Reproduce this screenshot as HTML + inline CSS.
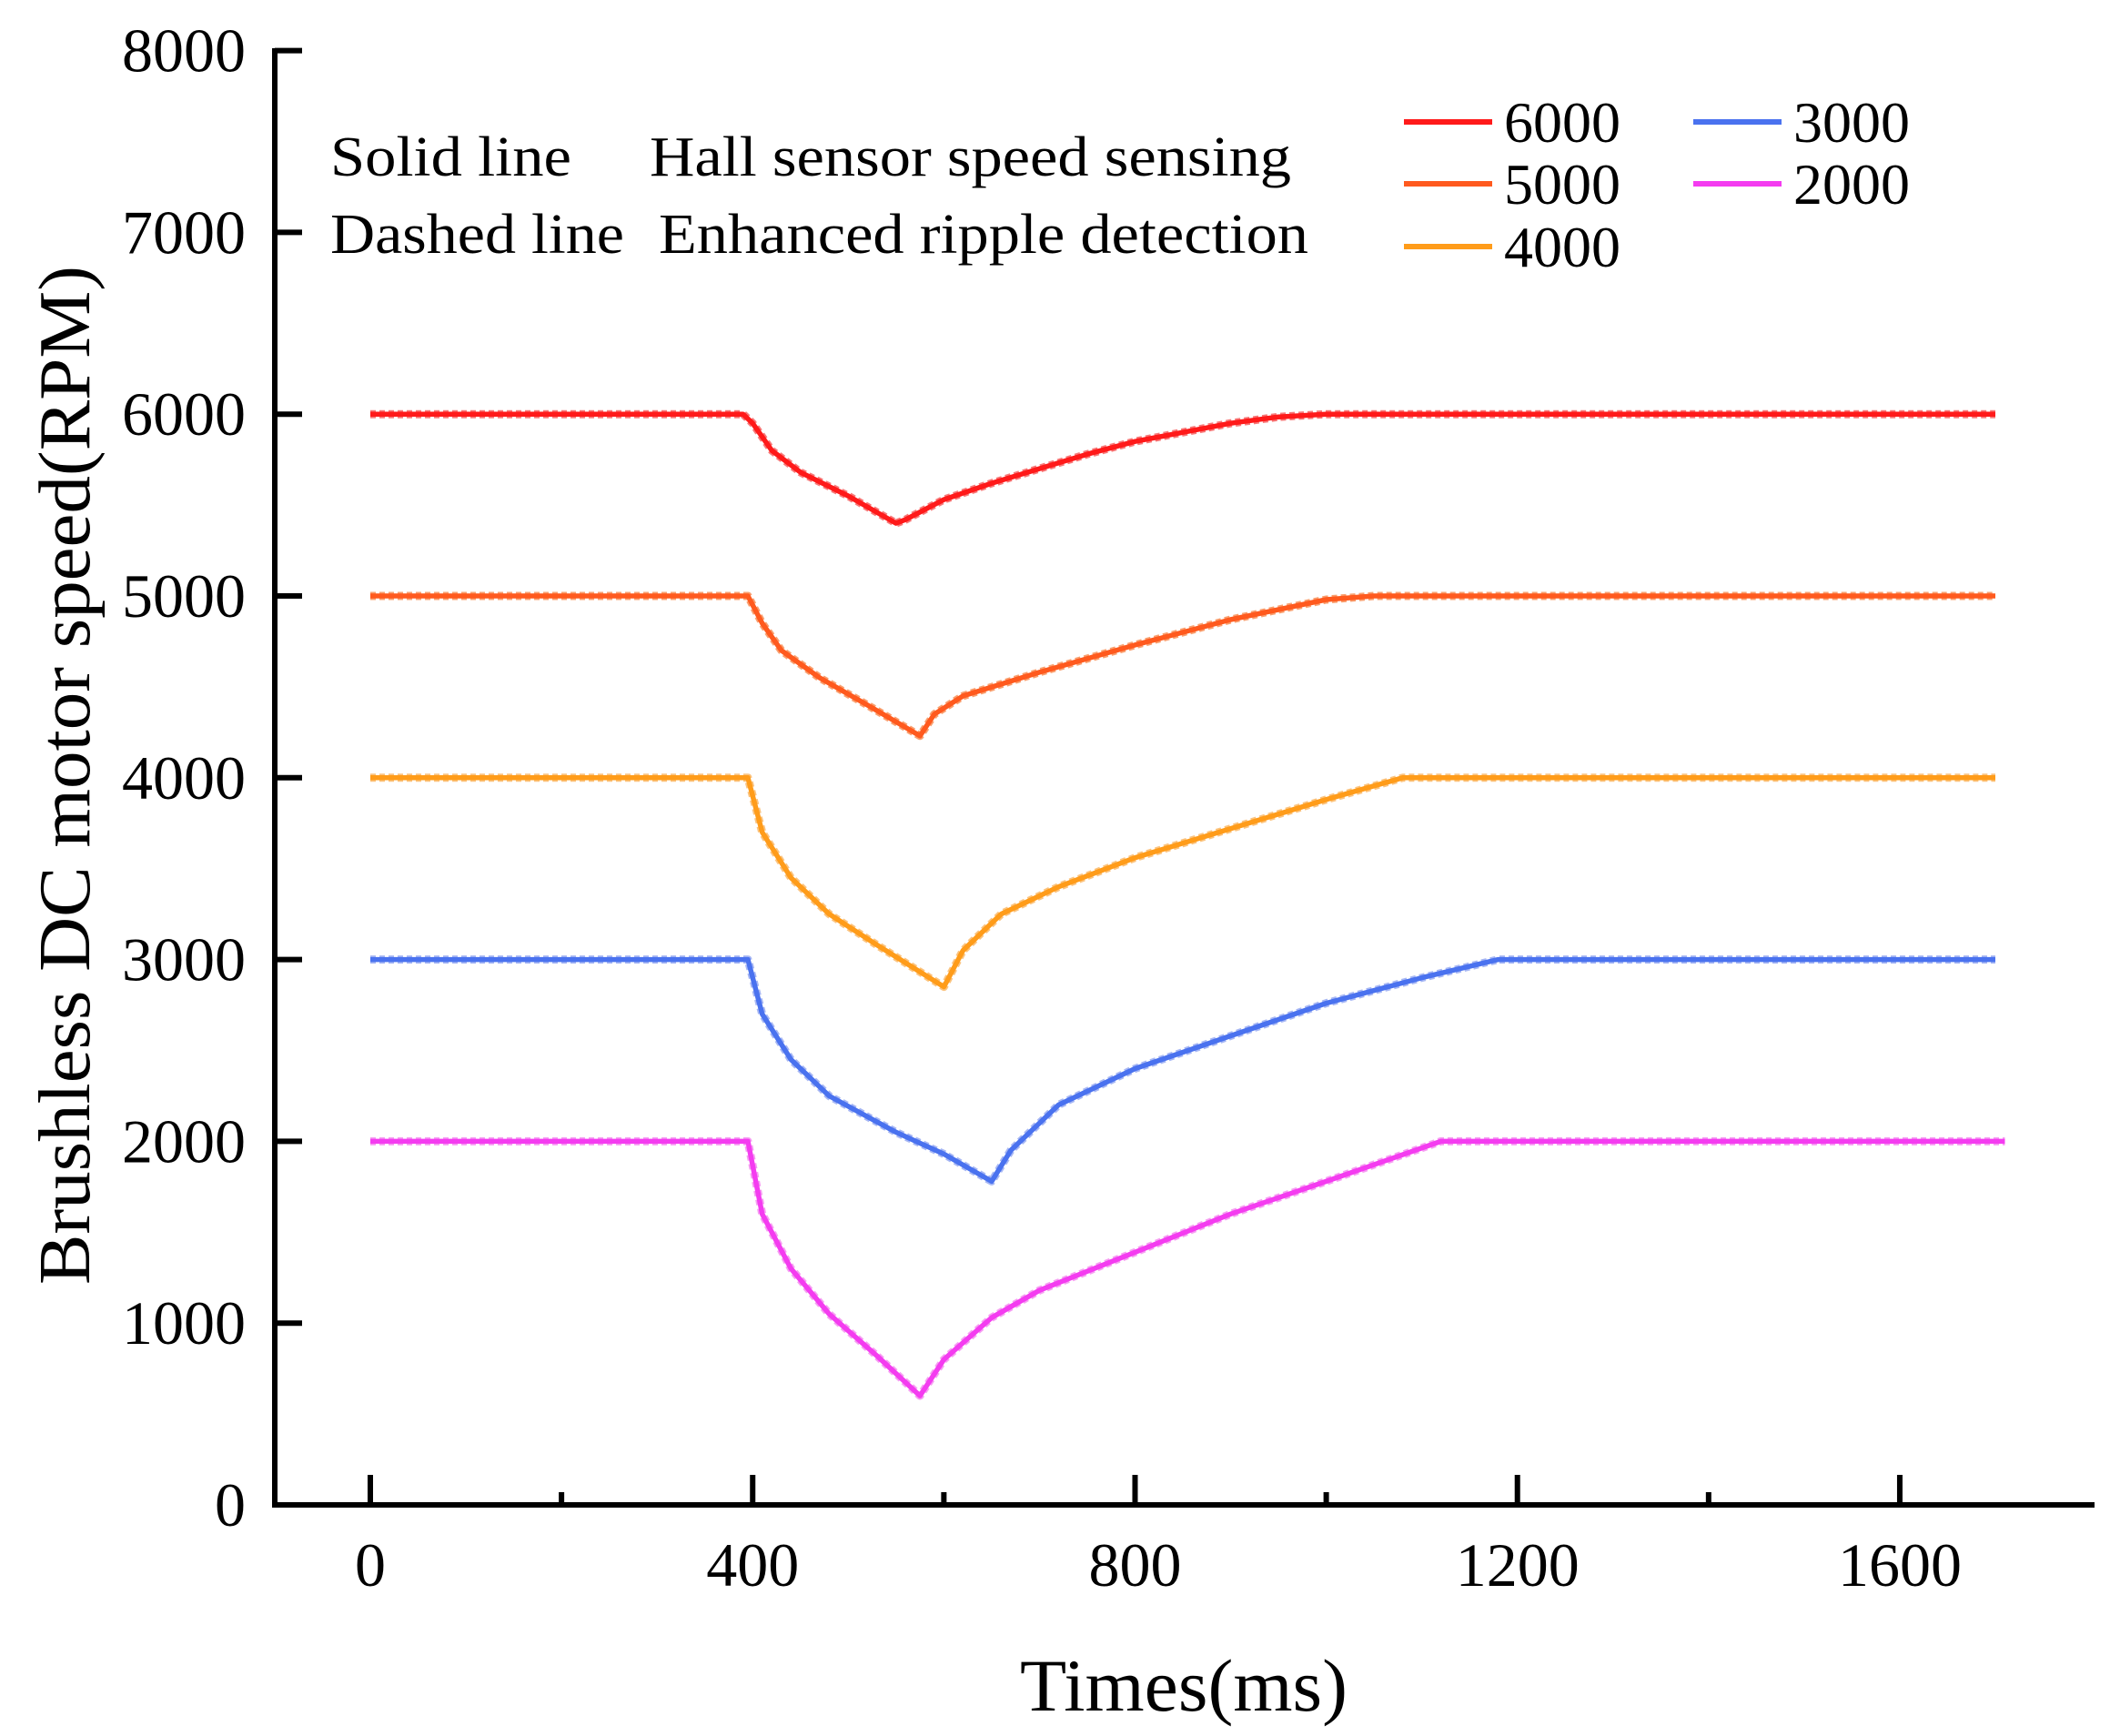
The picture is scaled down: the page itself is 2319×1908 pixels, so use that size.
<!DOCTYPE html>
<html><head><meta charset="utf-8"><style>
html,body{margin:0;padding:0;background:#fff;}
svg{display:block;font-family:"Liberation Serif",serif;}
</style></head><body>
<svg id="chart" width="2319" height="1908" viewBox="0 0 2319 1908" xmlns="http://www.w3.org/2000/svg">
<g id="axes"></g>
<g id="series"></g>
<g font-size="62" fill="#000">
<text x="363" y="193" textLength="265" lengthAdjust="spacingAndGlyphs">Solid line</text>
<text x="714" y="193" textLength="705" lengthAdjust="spacingAndGlyphs">Hall sensor speed sensing</text>
<text x="363" y="278" textLength="323" lengthAdjust="spacingAndGlyphs">Dashed line</text>
<text x="724" y="278" textLength="714" lengthAdjust="spacingAndGlyphs">Enhanced ripple detection</text>
</g>
<g id="legend" font-size="64"></g>
<text x="1301" y="1880" font-size="82" text-anchor="middle" textLength="360" lengthAdjust="spacingAndGlyphs">Times(ms)</text>
<text x="0" y="0" font-size="80" text-anchor="middle" transform="translate(98,852) rotate(-90)" textLength="1120" lengthAdjust="spacingAndGlyphs">Brushless DC motor speed(RPM)</text>
</svg>
<script>
const xTicks=[0,400,800,1200,1600];
const xMinor=[200,600,1000,1400];
const yTicks=[0,1000,2000,3000,4000,5000,6000,7000,8000];
const seriesNames=["6000","5000","4000","3000","2000"];
const seriesColors=["#ff1a1a","#ff5a1e","#ff9c1a","#4a72ef","#f43cf0"];
const lightColors=["#f77a7a","#f9a070","#fbc480","#a8b8f4","#f6a0f2"];
const t6000=[0,390,400,420,450,500,550,560,600,650,700,750,800,850,900,950,1000,1700];
const v6000=[6000,6000,5950,5800,5680,5550,5400,5420,5530,5620,5700,5780,5850,5900,5950,5985,6000,6000];
const t5000=[0,395,410,430,470,520,575,590,620,700,800,900,1000,1050,1700];
const v5000=[5000,5000,4850,4700,4550,4400,4230,4350,4450,4580,4730,4870,4980,5000,5000];
const t4000=[0,395,410,440,480,530,600,620,660,720,800,900,1000,1080,1700];
const v4000=[4000,4000,3700,3450,3250,3080,2850,3050,3250,3400,3560,3720,3880,4000,4000];
const t3000=[0,395,410,440,480,550,600,650,670,720,800,900,1000,1100,1180,1700];
const v3000=[3000,3000,2700,2450,2250,2050,1930,1780,1950,2200,2400,2580,2760,2900,3000,3000];
const t2000=[0,395,410,440,480,530,575,600,650,700,800,900,1000,1120,1710];
const v2000=[2000,2000,1600,1300,1050,820,600,800,1030,1180,1390,1600,1780,2000,2000];
const allT=[t6000,t5000,t4000,t3000,t2000];
const allV=[v6000,v5000,v4000,v3000,v2000];
const NS="http://www.w3.org/2000/svg";
function xs(t){return 407+t*1.0506;}
function ys(v){return 1654-v*0.1998;}
function mk(tag,attrs,parent){const e=document.createElementNS(NS,tag);for(const k in attrs)e.setAttribute(k,attrs[k]);parent.appendChild(e);return e;}
const axes=document.getElementById('axes');
let e=mk('line',{x1:302,y1:1654,x2:2302,y2:1654,stroke:'#000','stroke-width':6},axes);


e=mk('line',{x1:302,y1:1657,x2:302,y2:53,stroke:'#000','stroke-width':6},axes);


xTicks.forEach(t=>{
 let l=mk('line',{x1:xs(t),y1:1654,x2:xs(t),y2:1621,stroke:'#000','stroke-width':6},axes);
 
 
 let tx=mk('text',{x:xs(t),y:1743,'font-size':68,'text-anchor':'middle'},axes);
 tx.textContent=t;
 
 
});
xMinor.forEach(t=>{
 let l=mk('line',{x1:xs(t),y1:1654,x2:xs(t),y2:1640,stroke:'#000','stroke-width':6},axes);
 
 
});
yTicks.forEach(v=>{
 let l=mk('line',{x1:302,y1:ys(v),x2:332,y2:ys(v),stroke:'#000','stroke-width':6},axes);
 
 
 let tx=mk('text',{x:270,y:ys(v)+23,'font-size':68,'text-anchor':'end'},axes);
 tx.textContent=v;
 
 
});
const sg=document.getElementById('series');
allT.forEach((ts,i)=>{
 const d=ts.map((t,j)=>(j?'L':'M')+xs(t).toFixed(1)+','+ys(allV[i][j]).toFixed(1)).join(' ');
 let p=mk('path',{d:d,fill:'none',stroke:lightColors[i],'stroke-width':9,'stroke-dasharray':'6 4','stroke-linejoin':'round'},sg);
 
 
 let s=mk('path',{d:d,fill:'none',stroke:seriesColors[i],'stroke-width':5.5,'stroke-linejoin':'round'},sg);
 
 
});
const lg=document.getElementById('legend');
const legPos=[[1543,134],[1543,202],[1543,271],[1861,134],[1861,202]];
seriesNames.forEach((n,i)=>{
 const [x,y]=legPos[i];
 let l=mk('line',{x1:x,y1:y,x2:x+97,y2:y,stroke:seriesColors[i],'stroke-width':6},lg);
 
 
 let tx=mk('text',{x:x+110,y:y+22},lg);
 tx.textContent=n;
 
 
});
</script>
</body></html>
